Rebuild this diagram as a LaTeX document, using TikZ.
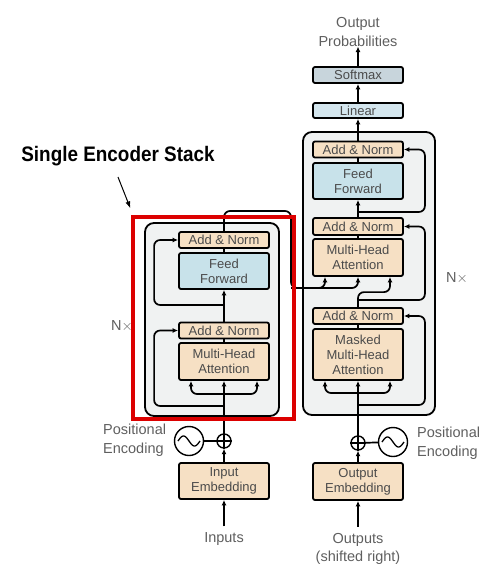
\documentclass[tikz,border=0pt]{standalone}
\usepackage{fontspec}
\setmainfont{Liberation Sans}
\newfontfamily\headfont[FakeStretch=0.9]{Liberation Sans Bold}
\usetikzlibrary{arrows.meta,calc,positioning}

\definecolor{beige}{RGB}{246,224,196}
\definecolor{ffblue}{RGB}{200,226,234}
\definecolor{linblue}{RGB}{212,230,238}
\definecolor{smgray}{RGB}{200,213,220}
\definecolor{stackgray}{RGB}{240,242,242}
\definecolor{txtgray}{RGB}{75,75,75}
\definecolor{lblgray}{RGB}{95,95,95}
\definecolor{stackred}{RGB}{220,0,0}

\begin{document}
\begin{tikzpicture}[x=1pt,y=-1pt]
    \tikzstyle{block} = [rectangle,draw=black,line width=1.8pt,rounded corners=2pt,
    inner sep=0pt,minimum width=90pt,text=txtgray,font=\fontsize{13}{15}\selectfont,align=center];
    \tikzstyle{addnorm} = [block,fill=beige,minimum height=16pt];
    \tikzstyle{attn} = [block,fill=beige,minimum height=37pt];
    \tikzstyle{ffwd} = [block,fill=ffblue,minimum height=36pt];
    \tikzstyle{stack} = [rectangle,draw=black,line width=1.8pt,rounded corners=9pt,fill=stackgray];
    \tikzstyle{label} = [text=lblgray,font=\fontsize{14.5}{18.5}\selectfont,align=center,inner sep=0pt];
    \tikzstyle{arr} = [line width=1.7pt,-{Latex[length=5.5pt,width=5pt]}];
    \tikzstyle{wire} = [line width=1.7pt];
    \tikzstyle{rc} = [rounded corners=6pt];

    \useasboundingbox (0,0) rectangle (493,580);

    % stacks
    \node[stack,name=encstack,minimum width=134pt,minimum height=193pt] at (212,319.5) {};
    \node[stack,name=decstack,minimum width=132pt,minimum height=283pt] at (369,273.5) {};

    % encoder
    \node[addnorm,name=encan2] at (224,240) {Add \& Norm};
    \node[ffwd,name=encff] at (224,271) {Feed\\Forward};
    \node[addnorm,name=encan1] at (224,330.5) {Add \& Norm};
    \node[attn,name=encmha] at (224,361.5) {Multi-Head\\Attention};
    \node[block,fill=beige,minimum height=36pt,name=encemb] at (224,481) {Input\\Embedding};
    \node[circle,draw,line width=1.4pt,minimum size=14pt,inner sep=0pt,name=encplus] at (224,441) {};
    \node[circle,draw,line width=1.4pt,minimum size=29pt,inner sep=0pt,name=encpe] at (189,441) {};
    \node[label,name=inputs] at (224,539) {Inputs};
    \node[label,align=left,anchor=west,name=encpelbl] at (103,440) {Positional\\Encoding};
    \node[label,name=encnx] at (122,326) {N$\times$};

    % decoder
    \node[label,name=outprob] at (358,32) {Output\\Probabilities};
    \node[block,fill=smgray,minimum height=16pt,name=softmax] at (358,75) {Softmax};
    \node[block,fill=linblue,minimum height=15pt,name=linear] at (358,110.5) {Linear};
    \node[addnorm,name=decan3] at (358,149.5) {Add \& Norm};
    \node[ffwd,name=decff] at (358,181) {Feed\\Forward};
    \node[addnorm,minimum height=17pt,name=decan2] at (358,226.5) {Add \& Norm};
    \node[attn,name=decmha] at (358,257.5) {Multi-Head\\Attention};
    \node[addnorm,name=decan1] at (358,316) {Add \& Norm};
    \node[block,fill=beige,minimum height=51pt,name=decmmha] at (358,354.5) {Masked\\Multi-Head\\Attention};
    \node[block,fill=beige,minimum height=37pt,name=decemb] at (358,481.5) {Output\\Embedding};
    \node[circle,draw,line width=1.4pt,minimum size=14pt,inner sep=0pt,name=decplus] at (358,443) {};
    \node[circle,draw,line width=1.4pt,minimum size=29pt,inner sep=0pt,name=decpe] at (393,442) {};
    \node[label,name=outputs] at (358,549) {Outputs\\(shifted right)};
    \node[label,align=left,anchor=west,name=decpelbl] at (417,443) {Positional\\Encoding};
    \node[label,name=decnx] at (457,278) {N$\times$};

    % plus signs and sine waves
    \foreach \p in {encplus,decplus}
      \draw[line width=1.3pt] (\p.north) -- (\p.south) (\p.west) -- (\p.east);
    \foreach \p in {encpe,decpe}
      \draw[line width=1.3pt,shift={(\p)}] plot[domain=-1:1,smooth,samples=31] ({11*\x},{5*sin(180*\x)});

    % encoder wiring
    \coordinate (encsplit0) at (224,394);
    \coordinate (encsplit1) at (224,406);
    \coordinate (encsplit2) at (224,305);
    \coordinate (encout) at (291,211);
    \coordinate (encout2) at (291,288);

    \draw[arr] ([yshift=6pt]inputs.north) -- (encemb);
    \draw[arr] (encemb) -- (encplus);
    \draw[wire] (encplus) -- (encpe);
    \draw[arr] (encplus) -- (encmha);
    \draw[arr,rc] (encsplit0) -| ([xshift=-33pt]encmha.south);
    \draw[arr,rc] (encsplit0) -| ([xshift=33pt]encmha.south);
    \draw[arr,rc] (encsplit1) -| ([xshift=-24pt]encan1.west) -- (encan1.west);
    \draw[wire] (encmha) -- (encan1);
    \draw[arr] (encan1) -- (encff);
    \draw[arr,rc] (encsplit2) -| ([xshift=-24pt]encan2.west) -- (encan2.west);
    \draw[wire] (encff) -- (encan2);
    \draw[arr,rc] (encan2.north) |- (encout) -- (encout2) -| ([xshift=-33pt]decmha.south);
    \draw[arr,rc] (encout2) -| (decmha.south);

    % decoder wiring
    \coordinate (decsplit0) at (358,393);
    \coordinate (decsplit1) at (358,405);
    \coordinate (decsplit2) at (358,300);
    \coordinate (decsplit3) at (358,212);

    \draw[arr] ([yshift=6pt]outputs.north) -- (decemb);
    \draw[arr] (decemb) -- (decplus);
    \draw[wire] (decplus) -- (decpe);
    \draw[arr] (decplus) -- (decmmha);
    \draw[arr,rc] (decsplit0) -| ([xshift=-33pt]decmmha.south);
    \draw[arr,rc] (decsplit0) -| ([xshift=32pt]decmmha.south);
    \draw[arr,rc] (decsplit1) -| ([xshift=21pt]decan1.east) -- (decan1.east);
    \draw[wire] (decmmha) -- (decan1);
    \draw[arr,rc] (decan1.north) |- ([xshift=32pt,yshift=15pt]decan1.north) -- ([xshift=32pt]decmha.south);
    \draw[arr,rc] (decsplit2) -| ([xshift=21pt]decan2.east) -- (decan2.east);
    \draw[wire] (decmha) -- (decan2);
    \draw[arr] (decan2) -- (decff);
    \draw[arr,rc] (decsplit3) -| ([xshift=21pt]decan3.east) -- (decan3.east);
    \draw[wire] (decff) -- (decan3);
    \draw[arr] (decan3) -- (linear);
    \draw[arr] (linear) -- (softmax);
    \draw[arr] (softmax) -- (outprob);

    % single encoder stack highlight
    \node[draw=stackred,line width=3.2pt,minimum width=161pt,minimum height=202pt,name=stackbox] at (213.5,318) {};
    \node[font=\headfont\fontsize{21}{24}\selectfont,inner sep=0pt,name=stacklabel] at (118,156) {Single Encoder Stack};
    \draw[line width=1pt,-{Latex[length=7pt,width=5pt]}] ([yshift=-11pt]stacklabel.south) -- ([xshift=-1pt,yshift=7pt]stackbox.north west);
\end{tikzpicture}
\end{document}
